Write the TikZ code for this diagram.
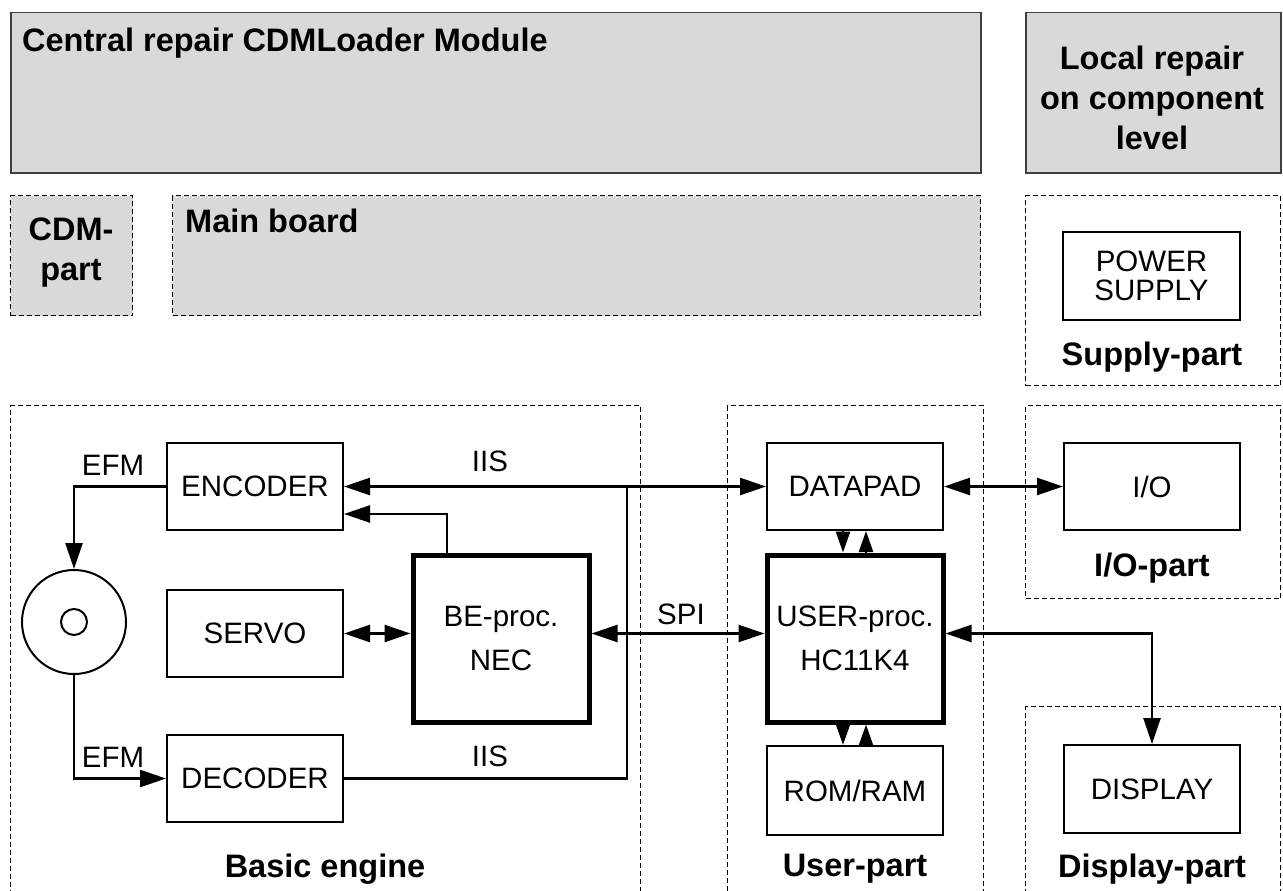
\documentclass[tikz,border=0pt]{standalone}
\usepackage{fontspec}
\setmainfont{Liberation Sans}
\usetikzlibrary{arrows.meta,calc}
\newcommand{\regsz}{\fontsize{29.5}{29.5}\selectfont}
\newcommand{\procsz}{\fontsize{29.5}{44}\selectfont}
\newcommand{\boldsz}{\fontsize{32.5}{40}\selectfont\bfseries}
\definecolor{panelgray}{HTML}{D9D9D9}
\definecolor{panelline}{HTML}{404040}
\tikzset{
  x=1pt, y=-1pt,
  >={Triangle[length=26pt,width=17pt]},
  smalltips/.style={>={Triangle[length=21pt,width=14pt]}},
  toppanel/.style={draw=panelline, line width=1.5pt, fill=panelgray, inner sep=0pt, anchor=north west},
  group/.style={draw, line width=1.2pt, dash pattern=on 5pt off 3pt, inner sep=0pt, anchor=north west},
  graygroup/.style={group, fill=panelgray},
  blk/.style={draw, line width=2pt, inner sep=0pt, minimum width=176pt, minimum height=87pt, font=\regsz, align=center},
  proc/.style={blk, line width=5pt, minimum height=167pt, font=\procsz},
  conn/.style={line width=2.5pt},
  lbl/.style={font=\regsz, inner sep=0pt},
  title/.style={font=\boldsz, inner sep=0pt, align=center},
}
\begin{document}
\begin{tikzpicture}
\clip (0,0) rectangle (1283,891);
\fill[white] (0,0) rectangle (1283,891);

% repair level panels
\node[toppanel, minimum width=970pt, minimum height=160pt] (central) at (10,12) {};
\node[title, anchor=base west] (centraltxt) at (22,52) {Central repair CDMLoader Module};
\node[toppanel, minimum width=255pt, minimum height=160pt] (local) at (1025,12) {};
\node[title] (localtxt) at (1152,98) {Local repair\\on component\\level};

% board groups
\node[graygroup, minimum width=122pt, minimum height=120pt] (cdmpart) at (10,195) {};
\node[title] (cdmtxt) at (71,253) {CDM-\\part};
\node[graygroup, minimum width=808pt, minimum height=120pt] (mainboard) at (172,195) {};
\node[title, anchor=base west] (maintxt) at (185,232) {Main board};

\node[group, minimum width=255pt, minimum height=190pt] (supplypart) at (1025,195) {};
\node[blk, minimum width=177pt, minimum height=88pt] (power) at (1151.5,276) {POWER\\SUPPLY};
\node[title] (supplytxt) at (1152,357) {Supply-part};

\node[group, minimum width=630pt, minimum height=520pt] (basic) at (10,405) {};
\node[title] (basictxt) at (325,869) {Basic engine};
\node[group, minimum width=256pt, minimum height=520pt] (userpart) at (727,405) {};
\node[title] (usertxt) at (855,869) {User-part};
\node[group, minimum width=255pt, minimum height=193pt] (iopart) at (1025,405) {};
\node[title] (iotxt) at (1152,568) {I/O-part};
\node[group, minimum width=255pt, minimum height=220pt] (displaypart) at (1025,706) {};
\node[title] (displaytxt) at (1152,869) {Display-part};

% functional blocks
\node[blk] (encoder) at (255,486.5) {ENCODER};
\node[blk] (servo) at (255,633.5) {SERVO};
\node[blk] (decoder) at (255,778.5) {DECODER};
\node[proc] (beproc) at (501,638.5) {BE-proc.\\NEC};
\node[blk] (datapad) at (855,486.5) {DATAPAD};
\node[proc] (userproc) at (855,638.5) {USER-proc.\\HC11K4};
\node[blk, minimum height=89pt] (romram) at (855,790.5) {ROM/RAM};
\node[blk] (io) at (1152,486.5) {I/O};
\node[blk, minimum height=88pt] (display) at (1152,789) {DISPLAY};

% disc
\node[draw, line width=2pt, circle, minimum size=104pt, inner sep=0pt] (disc) at (74,622) {};
\node[draw, line width=2pt, circle, minimum size=26pt, inner sep=0pt] (hole) at (74,622) {};

% EFM paths
\draw[conn, ->] (encoder.west) -| (disc.north);
\draw[conn, ->] (disc.south) |- (decoder.west);
\node[lbl] (efmtop) at (113,465) {EFM};
\node[lbl] (efmbot) at (113,757) {EFM};

% IIS bus
\coordinate (iisj) at (627,600);
\draw[conn, <->] (encoder.east) -- (datapad.west);
\draw[conn] (iisj |- encoder.east) -- (iisj |- decoder.east) -- (decoder.east);
\node[lbl] (iistop) at (490,461) {IIS};
\node[lbl] (iisbot) at (490,756) {IIS};

% control from BE processor to encoder
\draw[conn, ->] ([xshift=-54pt]beproc.north) |- ([yshift=-27.5pt]encoder.east);

% servo and SPI
\draw[conn, <->] (servo.east) -- (servo.east -| beproc.west);
\draw[conn, <->] (beproc.east |- servo.east) -- (userproc.west |- servo.east);
\node[lbl] (spi) at (681,614) {SPI};

% user part links
\draw[conn, <->] (datapad.east) -- (io.west);
\draw[conn, smalltips, ->] ([xshift=-12pt]datapad.south) -- ([xshift=-12pt]userproc.north);
\draw[conn, smalltips, ->] ([xshift=11pt]userproc.north) -- ([xshift=11pt]datapad.south);
\draw[conn, smalltips, ->] ([xshift=-12pt]userproc.south) -- ([xshift=-12pt]romram.north);
\draw[conn, smalltips, ->] ([xshift=11pt]romram.north) -- ([xshift=11pt]userproc.south);
\draw[conn, <->] (userproc.east |- servo.east) -| (display.north);
\end{tikzpicture}
\end{document}
